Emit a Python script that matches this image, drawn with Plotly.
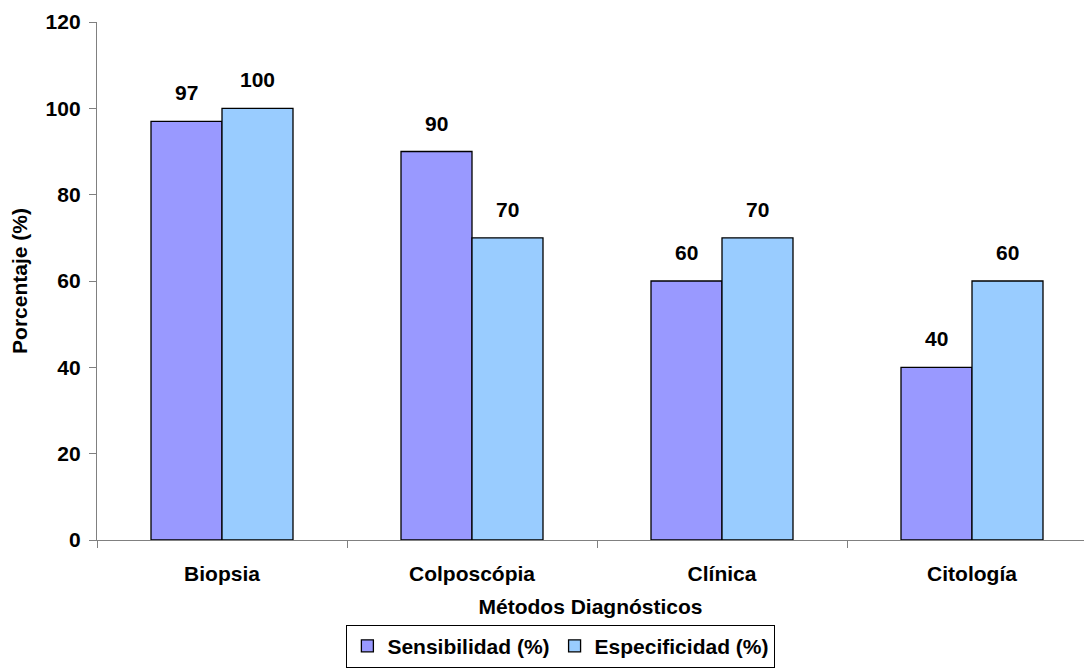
import plotly.graph_objects as go

# Diagnostic methods and their sensitivity / specificity values (%)
metodos = ["Biopsia", "Colposcópia", "Clínica", "Citología"]
sensibilidad = [97, 90, 60, 40]
especificidad = [100, 70, 70, 60]
y_ticks = [0, 20, 40, 60, 80, 100, 120]

FONT = "Liberation Sans, Arial, sans-serif"
COL_SENS = "#9999FF"
COL_ESP = "#99CCFF"
BARGAP = 0.432
FS = 21

fig = go.Figure()
fig.add_trace(go.Bar(
    name="<b>Sensibilidad (%)</b>", x=metodos, y=sensibilidad,
    marker=dict(color=COL_SENS, line=dict(color="#000000", width=1.3)),
))
fig.add_trace(go.Bar(
    name="<b>Especificidad (%)</b>", x=metodos, y=especificidad,
    marker=dict(color=COL_ESP, line=dict(color="#000000", width=1.3)),
))

# value labels above each bar
half = (1 - BARGAP) / 4
for i, (s, e) in enumerate(zip(sensibilidad, especificidad)):
    for off, v in ((-half, s), (half, e)):
        fig.add_annotation(
            x=i + off, y=v, text=f"<b>{v}</b>", showarrow=False,
            yanchor="bottom", yshift=15,
            font=dict(family=FONT, size=FS, color="#000000"),
        )

fig.update_layout(
    width=1084, height=671,
    margin=dict(l=97, r=0, t=22, b=131, autoexpand=False),
    paper_bgcolor="#FFFFFF", plot_bgcolor="#FFFFFF",
    barmode="group", bargap=BARGAP, bargroupgap=0,
    font=dict(family=FONT, size=FS, color="#000000"),
    showlegend=True,
    legend=dict(
        orientation="h", x=0.47, xanchor="center",
        yref="container", y=0.005, yanchor="bottom",
        bordercolor="#000000", borderwidth=1,
        font=dict(family=FONT, size=FS, color="#000000"),
        itemwidth=30, tracegroupgap=0,
    ),
    xaxis=dict(
        range=[-0.5, 3.448], showgrid=False,
        showline=True, linecolor="#808080", linewidth=1.3,
        ticks="outside", tickson="boundaries", ticklen=7, tickcolor="#808080",
        ticklabelstandoff=15,
        tickfont=dict(family=FONT, size=FS, color="#000000", weight="bold"),
        title=dict(text="<b>Métodos Diagnósticos</b>", standoff=14,
                   font=dict(family=FONT, size=FS, color="#000000")),
    ),
    yaxis=dict(
        range=[0, 120], tickvals=y_ticks, showgrid=False, zeroline=False,
        showline=True, linecolor="#808080", linewidth=1.3,
        ticks="outside", ticklen=7, tickcolor="#808080",
        ticklabelstandoff=4,
        tickfont=dict(family=FONT, size=FS, color="#000000", weight="bold"),
        title=dict(text="<b>Porcentaje (%)</b>", standoff=12,
                   font=dict(family=FONT, size=FS, color="#000000")),
    ),
)

fig.write_html("out.html")
